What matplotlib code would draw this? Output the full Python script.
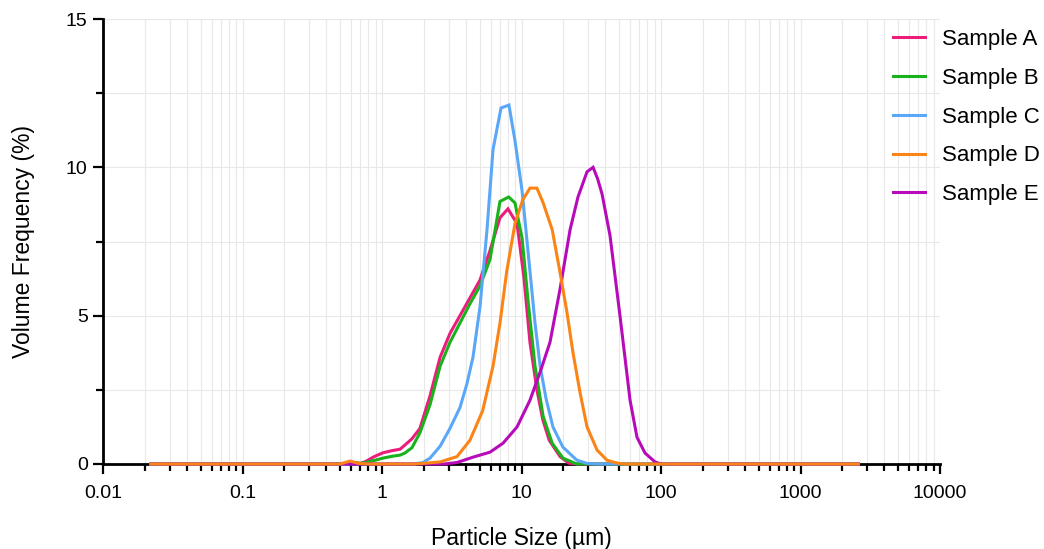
import matplotlib
matplotlib.use("Agg")
import matplotlib.pyplot as plt
from matplotlib.ticker import LogLocator, FixedLocator, NullFormatter

plt.rcParams['font.family'] = ['Liberation Sans', 'DejaVu Sans']

# size range of the instrument (flat zero ends)
x_start = 0.022
x_end = 2600

# Sample A
size_a = [x_start, 0.55, 0.62, 0.7, 0.76, 0.88, 1.02, 1.18, 1.35, 1.46, 1.64, 1.87, 2.21, 2.61,
          3.07, 3.62, 4.27, 5.04, 5.95, 7.01, 8.0, 9.29, 10.4, 11.5, 12.9, 14.2, 15.8,
          18.9, 21.8, 25.0, x_end]
freq_a = [0, 0, 0.05, 0.02, 0.08, 0.25, 0.38, 0.45, 0.5, 0.64, 0.85, 1.2, 2.3, 3.6,
          4.4, 5.0, 5.6, 6.2, 7.2, 8.3, 8.6, 8.1, 6.3, 4.1, 2.5, 1.5, 0.8,
          0.25, 0.03, 0, 0]

# Sample B
size_b = [x_start, 0.55, 0.62, 0.7, 0.76, 0.88, 1.02, 1.18, 1.35, 1.46, 1.64, 1.87, 2.21, 2.61,
          3.07, 3.62, 4.27, 5.04, 5.95, 7.01, 8.1, 8.98, 10.1, 11.2, 12.5, 14.3, 16.6,
          19.8, 24.9, x_end]
freq_b = [0, 0, 0.05, 0.02, 0.05, 0.12, 0.2, 0.26, 0.3, 0.37, 0.55, 1.05, 2.0, 3.3,
          4.1, 4.75, 5.4, 6.0, 6.9, 8.85, 9.0, 8.8, 7.6, 5.4, 3.3, 1.6, 0.7,
          0.2, 0, 0]

# Sample C
size_c = [x_start, 1.7, 1.97, 2.21, 2.61, 3.07, 3.62, 4.06, 4.49, 5.04, 5.66, 6.25, 7.13,
          8.13, 8.98, 10.1, 11.5, 12.5, 13.6, 15.0, 16.8, 19.8, 24.9, 29.5, 34.8, x_end]
freq_c = [0, 0, 0.05, 0.2, 0.6, 1.2, 1.9, 2.7, 3.6, 5.3, 7.9, 10.6, 12.0,
          12.1, 10.9, 9.2, 6.5, 4.75, 3.3, 2.2, 1.25, 0.57, 0.13, 0.02, 0, 0]

# Sample D
size_d = [x_start, 0.5, 0.59, 0.68, 0.8, 1.7, 1.97, 2.61, 3.45, 4.27, 5.27, 6.25, 7.01,
          7.84, 8.98, 10.2, 11.5, 12.9, 14.3, 16.6, 18.9, 21.2, 23.4, 26.3,
          29.5, 34.8, 41.0, 48.4, 55.0, x_end]
freq_d = [0, 0, 0.1, 0.02, 0, 0, 0.02, 0.07, 0.25, 0.8, 1.8, 3.3, 4.75,
          6.5, 8.1, 8.9, 9.3, 9.3, 8.8, 7.9, 6.45, 5.1, 3.75, 2.4,
          1.25, 0.47, 0.13, 0.03, 0, 0]

# Sample E
size_e = [x_start, 2.8, 3.45, 4.49, 5.95, 7.37, 9.29, 11.5, 13.6, 16.0, 18.9, 22.3, 25.4,
          29.5, 32.6, 35.2, 37.8, 43.1, 50.8, 60.0, 67.3, 76.8, 90.6, 100, x_end]
freq_e = [0, 0, 0.05, 0.23, 0.4, 0.7, 1.25, 2.15, 3.1, 4.1, 5.9, 7.9, 9.0,
          9.85, 10.0, 9.6, 9.1, 7.7, 5.0, 2.15, 0.9, 0.37, 0.07, 0, 0]

labels = ['Sample A', 'Sample B', 'Sample C', 'Sample D', 'Sample E']
colors = ['#ec1c7c', '#1ab21a', '#5aa7f8', '#fb8417', '#b70bb9']
sizes = [size_a, size_b, size_c, size_d, size_e]
freqs = [freq_a, freq_b, freq_c, freq_d, freq_e]
zorders = [3, 3.1, 3.2, 3.4, 3.3]

fig = plt.figure(figsize=(10.44, 5.49), dpi=100)
ax = fig.add_axes([103 / 1044, 1 - 464 / 549, (940 - 103) / 1044, (464 - 19) / 549])

for s, f, lab, c, z in zip(sizes, freqs, labels, colors, zorders):
    ax.plot(s, f, color=c, lw=2.2, label=lab, zorder=z, clip_on=False,
            solid_joinstyle='miter')

ax.set_xscale('log')
ax.set_xlim(0.01, 10000)
ax.set_ylim(0, 15)
ax.xaxis.set_minor_locator(LogLocator(base=10, subs=range(2, 10), numticks=20))
ax.xaxis.set_minor_formatter(NullFormatter())
ax.set_xticks([0.01, 0.1, 1, 10, 100, 1000, 10000])
ax.set_xticklabels(['0.01', '0.1', '1', '10', '100', '1000', '10000'])
ax.set_yticks([0, 5, 10, 15])
ax.yaxis.set_minor_locator(FixedLocator([2.5, 7.5, 12.5]))

ax.grid(True, which='both', color='#e8e8e8', lw=0.8)
ax.set_axisbelow(True)

for side in ['top', 'right']:
    ax.spines[side].set_visible(False)
for side in ['left', 'bottom']:
    ax.spines[side].set_linewidth(2)
    ax.spines[side].set_color('black')

ax.tick_params(which='major', length=7.5, width=1.6, labelsize=14, colors='black')
ax.tick_params(which='minor', length=5, width=1.6)
ax.tick_params(axis='x', which='major', pad=7.5)
ax.tick_params(axis='y', which='major', pad=3.5)

ax.set_xlabel('Particle Size (µm)', fontsize=16.5, labelpad=18)
ax.set_ylabel('Volume Frequency (%)', fontsize=16.5, labelpad=22)

ax.legend(loc='upper left', bbox_to_anchor=(893 / 1044, 1 - 29 / 549),
          bbox_transform=fig.transFigure, frameon=False, fontsize=16,
          handlelength=1.45, handletextpad=0.75, labelspacing=0.8,
          borderpad=0, borderaxespad=0)

fig.savefig('out.png', dpi=100)
